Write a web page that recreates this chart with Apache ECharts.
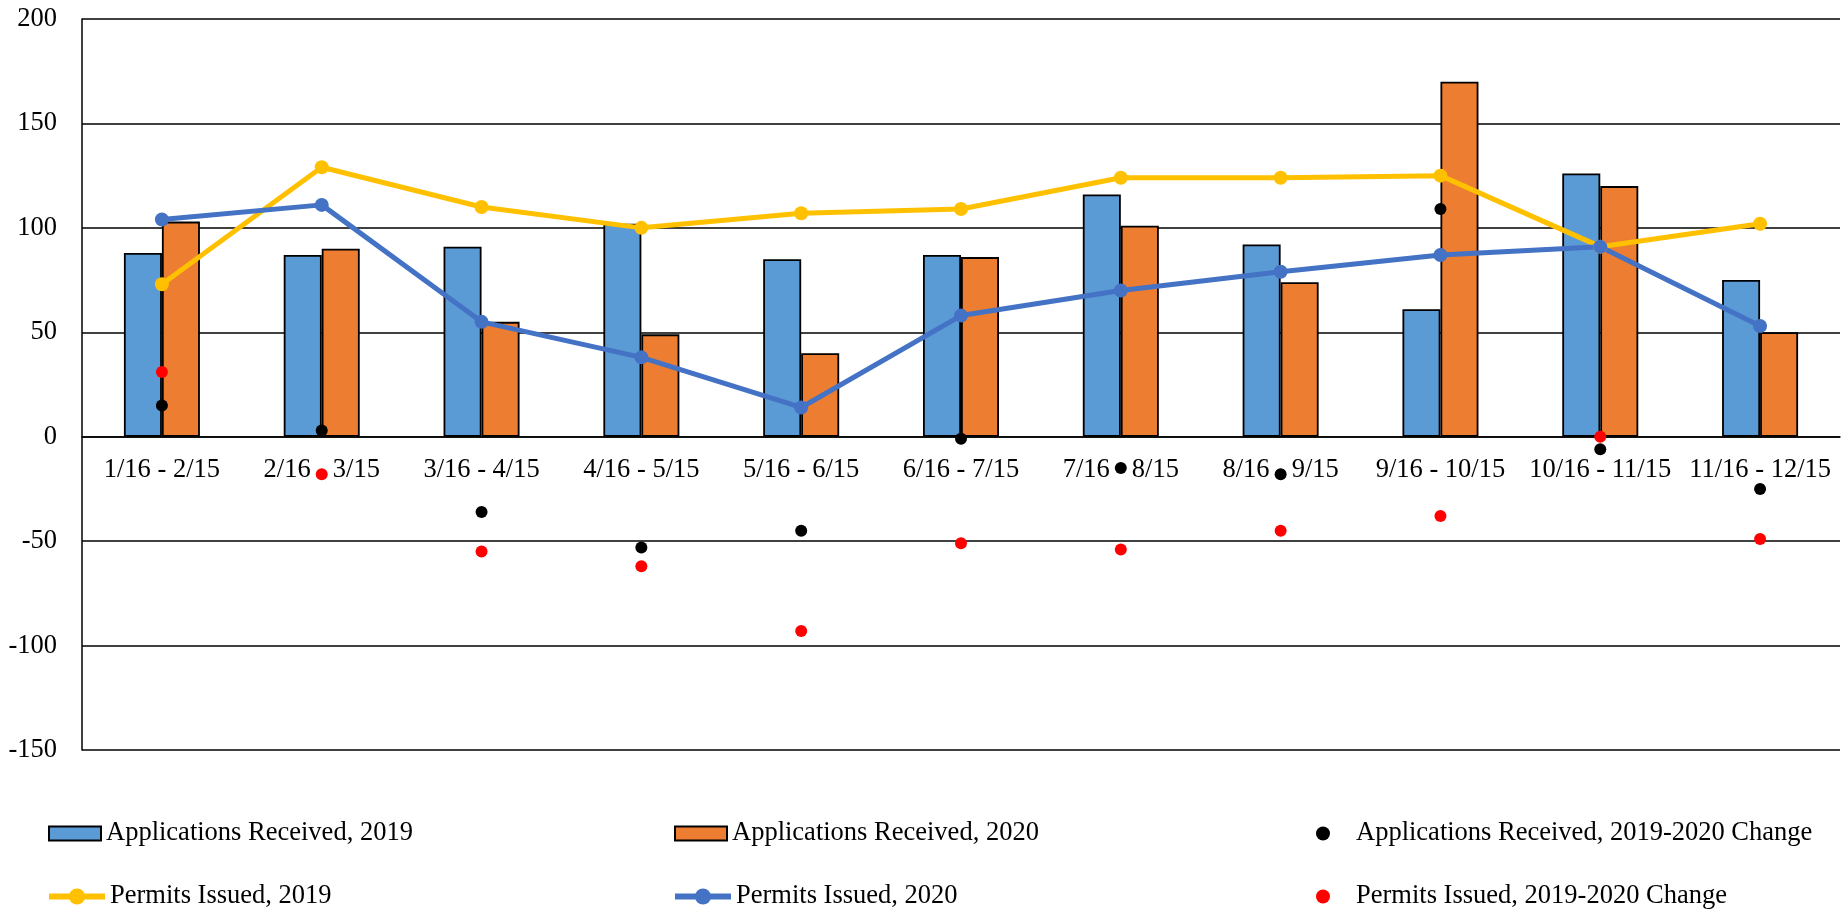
<!DOCTYPE html>
<html>
<head>
<meta charset="utf-8">
<script src="https://cdn.jsdelivr.net/npm/echarts@6/dist/echarts.min.js"></script>
<style>
  html, body { margin: 0; padding: 0; background: #ffffff; }
  #chart { width: 1845px; height: 912px; }
</style>
</head>
<body>
<div id="chart"></div>
<script>
// Monthly periods (16th to 15th)
const categories = ['1/16 - 2/15', '2/16 - 3/15', '3/16 - 4/15', '4/16 - 5/15', '5/16 - 6/15',
  '6/16 - 7/15', '7/16 - 8/15', '8/16 - 9/15', '9/16 - 10/15', '10/16 - 11/15', '11/16 - 12/15'];

const applications2019 = [88, 87, 91, 102, 85, 87, 116, 92, 61, 126, 75];
const applications2020 = [103, 90, 55, 49, 40, 86, 101, 74, 170, 120, 50];
const applicationsChange = [15, 3, -36, -53, -45, -1, -15, -18, 109, -6, -25];

const permits2019 = [73, 129, 110, 100, 107, 109, 124, 124, 125, 91, 102];
const permits2020 = [104, 111, 55, 38, 14, 58, 70, 79, 87, 91, 53];
const permitsChange = [31, -18, -55, -62, -93, -51, -54, -45, -38, 0, -49];

const yTicks = { min: -150, max: 200, interval: 50 };

const FONT = "'Liberation Serif', 'Times New Roman', serif";
const FONT_SIZE = 26.5;
const names = [
  'Applications Received, 2019',
  'Applications Received, 2020',
  'Applications Received, 2019-2020 Change',
  'Permits Issued, 2019',
  'Permits Issued, 2020',
  'Permits Issued, 2019-2020 Change'
];

const CHART_H = 912;
const GRID = { left: 82, right: 5, top: 19, bottom: 162 };
// category axis sits on the zero line of the value axis
const plotH = CHART_H - GRID.top - GRID.bottom;
const zeroOffset = -((0 - yTicks.min) / (yTicks.max - yTicks.min)) * plotH;

// one legend per entry so the six entries sit in a 3 x 2 layout
const legendCfg = [
  { left: 48, top: 820, w: 52, h: 14, icon: 'rect' },
  { left: 674, top: 820, w: 52, h: 14, icon: 'rect' },
  { left: 1316, top: 820, w: 56, h: 14 },
  { left: 46, top: 883, w: 56, h: 20 },
  { left: 672, top: 883, w: 56, h: 20 },
  { left: 1316, top: 883, w: 56, h: 14 }
];
const legends = names.map((n, i) => {
  const c = legendCfg[i];
  const lg = {
    data: [n],
    left: c.left,
    top: c.top,
    padding: 0,
    itemWidth: c.w,
    itemHeight: c.h,
    lineStyle: { width: 6 },
    textStyle: { fontFamily: FONT, fontSize: FONT_SIZE, color: '#000' },
    selectedMode: false
  };
  if (c.icon) lg.icon = c.icon;
  return lg;
});

const chart = echarts.init(document.getElementById('chart'));
chart.setOption({
  animation: false,
  backgroundColor: '#ffffff',
  legend: legends,
  grid: GRID,
  xAxis: {
    type: 'category',
    data: categories,
    boundaryGap: true,
    offset: zeroOffset,
    axisTick: { show: false },
    axisLine: { onZero: false, lineStyle: { color: '#000', width: 1.5 } },
    axisLabel: { fontFamily: FONT, fontSize: FONT_SIZE, lineHeight: FONT_SIZE, color: '#000', margin: 20, interval: 0 }
  },
  yAxis: {
    type: 'value',
    min: yTicks.min,
    max: yTicks.max,
    interval: yTicks.interval,
    axisLine: { show: true, lineStyle: { color: '#000', width: 1.5 } },
    axisTick: { show: false },
    splitLine: { show: true, lineStyle: { color: '#000', width: 1.5 } },
    axisLabel: { fontFamily: FONT, fontSize: FONT_SIZE, color: '#000', margin: 25 }
  },
  series: [
    {
      name: names[0], type: 'bar', data: applications2019,
      barWidth: 38, barGap: '0%',
      itemStyle: { color: '#5B9BD5', borderColor: '#000', borderWidth: 1.8 }
    },
    {
      name: names[1], type: 'bar', data: applications2020,
      barWidth: 38, barGap: '0%',
      itemStyle: { color: '#ED7D31', borderColor: '#000', borderWidth: 1.8 }
    },
    {
      name: names[2], type: 'scatter', data: applicationsChange,
      symbol: 'circle', symbolSize: 12, z: 4,
      itemStyle: { color: '#000000', opacity: 1 }
    },
    {
      name: names[3], type: 'line', data: permits2019,
      symbol: 'circle', symbolSize: 14, z: 3,
      lineStyle: { color: '#FFC000', width: 5 },
      itemStyle: { color: '#FFC000' }
    },
    {
      name: names[4], type: 'line', data: permits2020,
      symbol: 'circle', symbolSize: 14, z: 3,
      lineStyle: { color: '#4472C4', width: 5 },
      itemStyle: { color: '#4472C4' }
    },
    {
      name: names[5], type: 'scatter', data: permitsChange,
      symbol: 'circle', symbolSize: 12, z: 4,
      itemStyle: { color: '#FF0000', opacity: 1 }
    }
  ]
});
</script>
</body>
</html>
